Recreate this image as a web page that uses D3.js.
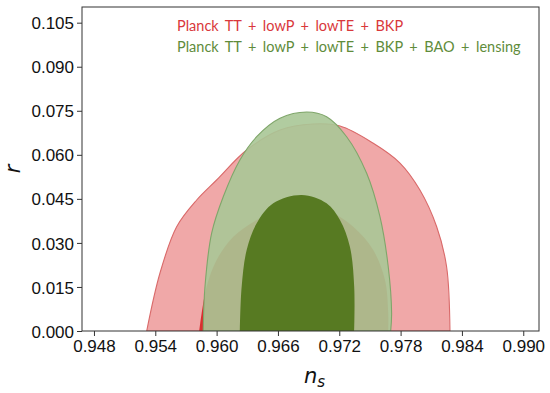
<!DOCTYPE html>
<html>
<head>
  <meta charset="UTF-8">
  <script src="https://d3js.org/d3.v7.min.js"></script>
  <style>
    * { margin: 0; padding: 0; box-sizing: border-box; }
    body { background: #fff; font-family: "Liberation Sans", Arial, sans-serif; }
    .tick text { font-family: "Liberation Sans", Arial, sans-serif; font-size: 17px; fill: #111; }
  </style>
</head>
<body>
  <div id="chart"></div>
  <script>
    // ticks
    const xTicks = [0.948, 0.954, 0.960, 0.966, 0.972, 0.978, 0.984, 0.990];
    const yTicks = [0.000, 0.015, 0.030, 0.045, 0.060, 0.075, 0.090, 0.105];

    // Planck TT + lowP + lowTE + BKP, 95% contour
    const red95Ns = [0.95316, 0.95446, 0.95609, 0.95805, 0.96000, 0.96294, 0.96620, 0.96942, 0.97207, 0.97529, 0.97794, 0.97989, 0.98153, 0.98250, 0.98283];
    const red95R  = [0, 0.01975, 0.03551, 0.04461, 0.05142, 0.06163, 0.06844, 0.07049, 0.06980, 0.06401, 0.05720, 0.04801, 0.03551, 0.02189, 0];
    // 68% contour
    const red68Ns = [0.95830, 0.95854, 0.95902, 0.96000, 0.96163, 0.96392, 0.96620, 0.96864, 0.97109, 0.97337, 0.97532, 0.97647, 0.97679, 0.97679];
    const red68R  = [0, 0.00613, 0.01508, 0.02418, 0.03211, 0.03780, 0.04120, 0.04212, 0.04062, 0.03551, 0.02758, 0.01737, 0.00613, 0];

    // + BAO + lensing
    const green95Ns = [0.95869, 0.95886, 0.95951, 0.96065, 0.96228, 0.96392, 0.96620, 0.96881, 0.97076, 0.97272, 0.97468, 0.97598, 0.97679, 0.97712, 0.97703];
    const green95R  = [0, 0.01508, 0.03327, 0.04573, 0.05826, 0.06616, 0.07242, 0.07457, 0.07297, 0.06616, 0.05370, 0.03892, 0.02189, 0.00613, 0];
    const green68Ns = [0.96228, 0.96245, 0.96294, 0.96392, 0.96554, 0.96832, 0.97076, 0.97207, 0.97304, 0.97346, 0.97346];
    const green68R  = [0, 0.01508, 0.02758, 0.03667, 0.04348, 0.04631, 0.04348, 0.03780, 0.02870, 0.01508, 0];

    const legend = ["Planck TT + lowP + lowTE + BKP", "Planck TT + lowP + lowTE + BKP + BAO + lensing"];

    const W = 550, H = 393;
    const margin = {top: 7, right: 11, bottom: 62, left: 82};
    const width = W - margin.left - margin.right,
          height = H - margin.top - margin.bottom;

    const svg = d3.select("#chart").append("svg")
      .attr("width", W).attr("height", H);
    const g = svg.append("g").attr("transform", `translate(${margin.left},${margin.top})`);

    const x = d3.scaleLinear().domain([0.94683, 0.99154]).range([0, width]);
    const y = d3.scaleLinear().domain([0, 0.11034]).range([height, 0]);

    svg.append("defs").append("clipPath").attr("id", "clip")
      .append("rect").attr("width", width).attr("height", height);

    const line = d3.line()
      .x(d => x(d[0])).y(d => y(d[1]))
      .curve(d3.curveCatmullRom.alpha(0.5));

    const zip = (a, b) => a.map((v, i) => [v, b[i]]);
    const shape = (ns, r) => line(zip(ns, r)) + "Z";

    const plot = g.append("g").attr("clip-path", "url(#clip)");

    plot.append("path").attr("d", shape(red95Ns, red95R))
      .attr("fill", "#f0a8a8").attr("stroke", "#d96a6a").attr("stroke-width", 1.1);
    plot.append("path").attr("d", shape(red68Ns, red68R))
      .attr("fill", "#d92f2f");
    plot.append("path").attr("d", shape(green95Ns, green95R))
      .attr("fill", "#a8c696").attr("fill-opacity", 0.9)
      .attr("stroke", "#7fa66a").attr("stroke-width", 1.1);
    plot.append("path").attr("d", shape(green68Ns, green68R))
      .attr("fill", "#577a22");

    // axes
    g.append("g").attr("transform", `translate(0,${height})`)
      .call(d3.axisBottom(x).tickValues(xTicks).tickFormat(d3.format(".3f")).tickSize(5).tickSizeOuter(0).tickPadding(4))
      .call(a => a.select(".domain").remove())
      .call(a => a.selectAll("line").attr("stroke", "#333"));
    g.append("g")
      .call(d3.axisLeft(y).tickValues(yTicks).tickFormat(d3.format(".3f")).tickSize(5).tickSizeOuter(0).tickPadding(3))
      .call(a => a.select(".domain").remove())
      .call(a => a.selectAll("line").attr("stroke", "#333"))
      .call(a => a.selectAll("text").attr("dy", "0.36em"));

    g.append("rect").attr("width", width).attr("height", height)
      .attr("fill", "none").attr("stroke", "#333").attr("stroke-width", 1);

    // legend text
    const colors = ["#d9383b", "#5f8c3b"];
    legend.forEach((t, i) => {
      g.append("text")
        .attr("x", 95).attr("y", 24 + i * 21)
        .attr("fill", colors[i])
        .style("font-family", "Lato, 'Open Sans', sans-serif")
        .style("font-size", "14.5px")
        .style("word-spacing", "2.8px")
        .text(t);
    });

    // axis labels
    const xl = svg.append("text")
      .attr("x", margin.left + width / 2 + 4).attr("y", 383)
      .attr("text-anchor", "middle")
      .style("font-family", "'DejaVu Sans', sans-serif")
      .style("font-style", "italic")
      .style("font-size", "21px")
      .attr("fill", "#111");
    xl.append("tspan").text("n");
    xl.append("tspan").attr("dy", 4).style("font-size", "15px").text("s");

    svg.append("text")
      .attr("transform", `translate(20,${margin.top + height / 2}) rotate(-90)`)
      .attr("text-anchor", "middle")
      .style("font-family", "'DejaVu Sans', sans-serif")
      .style("font-style", "italic")
      .style("font-size", "21px")
      .attr("fill", "#111")
      .text("r");
  </script>
</body>
</html>
